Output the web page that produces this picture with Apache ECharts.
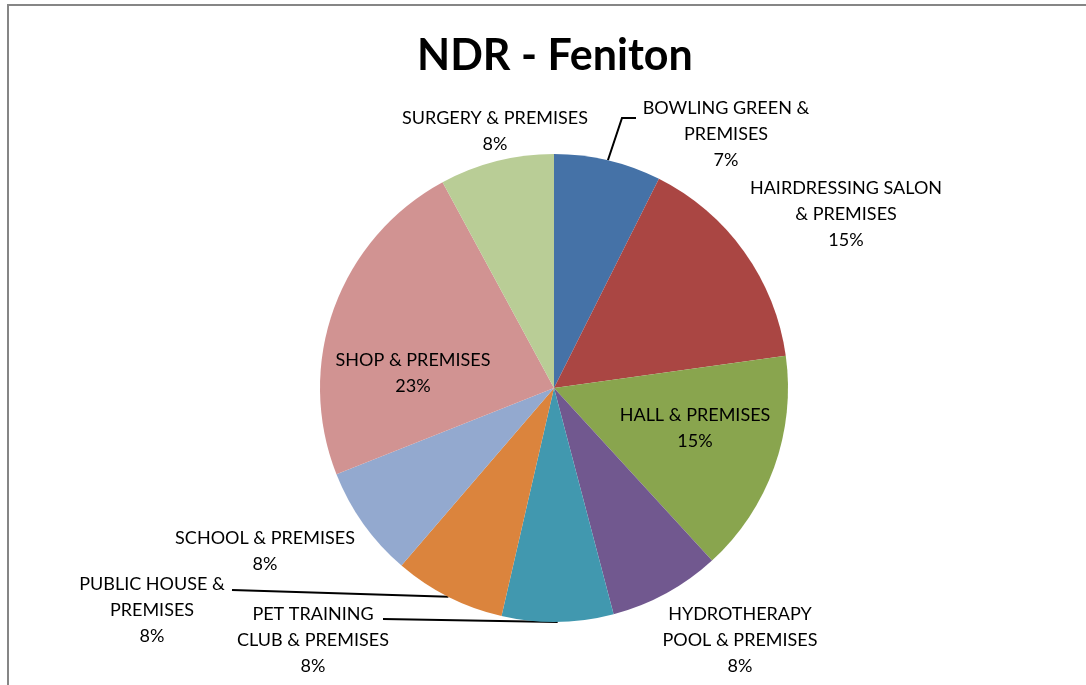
<!DOCTYPE html>
<html>
<head>
<meta charset="utf-8">
<script src="https://cdn.jsdelivr.net/npm/echarts@6/dist/echarts.min.js"></script>
<style>
  html, body { margin: 0; padding: 0; background: #fff; }
  #chart { width: 1086px; height: 685px; }
</style>
</head>
<body>
<div id="chart"></div>
<script>
// 分类名称（带换行，与原图一致）
const categories = [
  'BOWLING GREEN &\nPREMISES',
  'HAIRDRESSING SALON\n& PREMISES',
  'HALL & PREMISES',
  'HYDROTHERAPY\nPOOL & PREMISES',
  'PET TRAINING\nCLUB & PREMISES',
  'PUBLIC HOUSE &\nPREMISES',
  'SCHOOL & PREMISES',
  'SHOP & PREMISES',
  'SURGERY & PREMISES',
];
// 各扇区数值（按图中角度估读）
const values = [7.4, 15.4, 15.4, 7.7, 7.7, 7.7, 7.7, 23.1, 7.9];
const colors = ['#4572A7', '#AA4643', '#89A54E', '#71588F', '#4198AF', '#DB843D', '#93A9CF', '#D19392', '#B9CD96'];
// 标签中心位置
const labelPos = [
  [726, 134], [846, 214], [695, 428], [740, 640], [313, 640],
  [152, 610], [265, 551], [413, 373], [495, 131],
];
// 引导线的折点/终点（起点取扇区边缘），null 表示不画引导线
const lineEnds = [
  [[622, 118], [636, 118]], null, null, null, [[383, 619]],
  [[232, 590]], null, null, null,
];

const chart = echarts.init(document.getElementById('chart'));
const fontFamily = 'Lato, "Open Sans", sans-serif';

const option = {
  backgroundColor: '#fff',
  animation: false,
  title: {
    text: 'NDR - Feniton',
    left: 412,
    top: 30,
    textStyle: {
      fontFamily,
      fontSize: 43,
      fontWeight: 'bold',
      color: '#000',
    },
  },
  graphic: [{
    type: 'rect',
    shape: { x: 8, y: 5, width: 1200, height: 800 },
    style: { fill: 'none', stroke: '#868686', lineWidth: 2 },
    silent: true,
  }],
  series: [{
    type: 'pie',
    center: [554, 388],
    radius: 234,
    startAngle: 90,
    clockwise: true,
    avoidLabelOverlap: false,
    percentPrecision: 0,
    label: {
      show: true,
      position: 'outside',
      formatter: '{b}\n{d}%',
      fontFamily,
      fontSize: 18,
      lineHeight: 26,
      color: '#000',
      align: 'center',
    },
    labelLine: {
      show: false,
      length: 10,
      length2: 10,
      lineStyle: { color: '#000', width: 2 },
    },
    labelLayout(params) {
      const i = params.dataIndex;
      const p = labelPos[i];
      const res = { x: p[0], y: p[1], align: 'center', verticalAlign: 'middle' };
      if (lineEnds[i] && params.labelLinePoints) {
        res.labelLinePoints = [params.labelLinePoints[0]].concat(lineEnds[i]);
      }
      return res;
    },
    data: categories.map((name, i) => ({
      name,
      value: values[i],
      itemStyle: { color: colors[i] },
      labelLine: { show: !!lineEnds[i] },
    })),
  }],
};
chart.setOption(option);
</script>
</body>
</html>
